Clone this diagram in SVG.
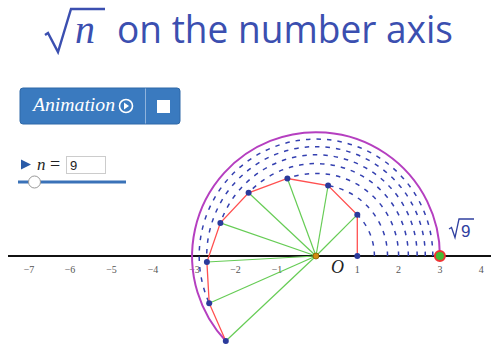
<svg xmlns="http://www.w3.org/2000/svg" width="491" height="346" viewBox="0 0 491 346">
<style>
.title{font-family:"Open Sans","DejaVu Sans",sans-serif;font-size:38px;fill:#3b4fb0}
.mi{font-family:"Liberation Serif","DejaVu Serif",serif;font-style:italic}
.tick{font-family:"Liberation Serif","DejaVu Serif",serif;font-size:10px;fill:#555;text-anchor:middle}
.dash{fill:none;stroke:#3440b0;stroke-width:1.5;stroke-dasharray:4.5 6}
.green{stroke:#66cc55;stroke-width:1.2}
.red{fill:none;stroke:#ff5050;stroke-width:1.3}
.pt{fill:#2b3a9b}
</style>
<g id="title">
<path d="M45,35 L48,33 L58,52 L71,9 L105,9" fill="none" stroke="#3b4fb0" stroke-width="2.4" stroke-linejoin="miter"/>
<text x="75" y="43" class="mi" font-size="40" fill="#3b4fb0">n</text>
<text x="117" y="43" class="title" textLength="336" lengthAdjust="spacingAndGlyphs">on the number axis</text>
</g>
<g id="animation-button">
<rect x="20" y="88" width="160" height="36" rx="3" fill="#3a7abf" stroke="#2f69a8" stroke-width="1"/>
<line x1="145.5" y1="88.5" x2="145.5" y2="123.5" stroke="#8fb3dc" stroke-width="1"/>
<text x="33" y="111" class="mi" font-size="18" fill="#fff" textLength="82" lengthAdjust="spacingAndGlyphs">Animation</text>
<circle cx="126" cy="106" r="6.5" fill="none" stroke="#fff" stroke-width="1.6"/>
<path d="M124,102.5 L129,106 L124,109.5 Z" fill="#fff"/>
<rect x="157" y="100" width="13" height="13" fill="#fff"/>
</g>
<g id="slider">
<path d="M21,159.5 L31,164.5 L21,169.5 Z" fill="#2a5ba8"/>
<text x="37" y="170" class="mi" font-size="17" fill="#222">n</text>
<text x="50" y="170" font-family="Liberation Serif,serif" font-size="18" fill="#222">=</text>
<rect x="66.5" y="156.5" width="39" height="17" fill="#fff" stroke="#ccc" stroke-width="1"/>
<text x="70" y="169.5" font-family="Liberation Sans,Arial,sans-serif" font-size="13" fill="#222">9</text>
<line x1="18" y1="182" x2="126" y2="182" stroke="#3a72b8" stroke-width="3"/>
<circle cx="34.5" cy="182" r="6" fill="#fff" stroke="#999" stroke-width="1"/>
</g>
<g id="axis">
<line x1="8" y1="256" x2="491" y2="256" stroke="#111" stroke-width="2"/>
<text x="29" y="273" class="tick">−7</text>
<text x="70" y="273" class="tick">−6</text>
<text x="111.5" y="273" class="tick">−5</text>
<text x="153" y="273" class="tick">−4</text>
<text x="194.5" y="273" class="tick">−3</text>
<text x="235.5" y="273" class="tick">−2</text>
<text x="277" y="273" class="tick">−1</text>
<text x="357.3" y="273" class="tick">1</text>
<text x="398.6" y="273" class="tick">2</text>
<text x="440" y="273" class="tick">3</text>
<text x="481.2" y="273" class="tick">4</text>
<text x="331" y="273" class="mi" font-size="18" fill="#222">O</text>
</g>
<g id="connectors">
<path class="dash" d="M374.41,256 A58.41,58.41 0 0 0 357.3,214.7"/>
<path class="dash" d="M387.53,256 A71.53,71.53 0 0 0 328.1,185.5"/>
<path class="dash" d="M398.6,256 A82.6,82.6 0 0 0 287.4,178.5"/>
<path class="dash" d="M408.35,256 A92.35,92.35 0 0 0 248.6,192.8"/>
<path class="dash" d="M417.16,256 A101.16,101.16 0 0 0 220.4,222.9"/>
<path class="dash" d="M425.27,256 A109.27,109.27 0 1 0 206.9,262.0"/>
<path class="dash" d="M432.81,256 A116.81,116.81 0 1 0 209.2,303.2"/>
<path d="M439.9,256 A123.9,123.9 0 1 0 225.8,341.0" fill="none" stroke="#b53fc0" stroke-width="2"/>
<g class="green">
<line x1="316" y1="256" x2="357.3" y2="214.7"/>
<line x1="316" y1="256" x2="328.1" y2="185.5"/>
<line x1="316" y1="256" x2="287.4" y2="178.5"/>
<line x1="316" y1="256" x2="248.6" y2="192.8"/>
<line x1="316" y1="256" x2="220.4" y2="222.9"/>
<line x1="316" y1="256" x2="206.9" y2="262.0"/>
<line x1="316" y1="256" x2="209.2" y2="303.2"/>
<line x1="316" y1="256" x2="225.8" y2="341.0"/>
</g>
<polyline class="red" points="357.3,256 357.3,214.7 328.1,185.5 287.4,178.5 248.6,192.8 220.4,222.9 206.9,262.0 209.2,303.2 225.8,341.0"/>
</g>
<g id="points">
<circle class="pt" cx="357.3" cy="256" r="3"/>
<circle class="pt" cx="357.3" cy="214.7" r="3"/>
<circle class="pt" cx="328.1" cy="185.5" r="3"/>
<circle class="pt" cx="287.4" cy="178.5" r="3"/>
<circle class="pt" cx="248.6" cy="192.8" r="3"/>
<circle class="pt" cx="220.4" cy="222.9" r="3"/>
<circle class="pt" cx="206.9" cy="262.0" r="3"/>
<circle class="pt" cx="209.2" cy="303.2" r="3"/>
<circle class="pt" cx="225.8" cy="341.0" r="3"/>
<circle cx="316" cy="256" r="3" fill="#d08a10" stroke="#8a5a00" stroke-width="0.8"/>
<circle cx="439.9" cy="256" r="5" fill="#44bb33" stroke="#ee3333" stroke-width="2"/>
</g>
<g id="sqrt9-label">
<path d="M449,229 L451.5,227.5 L455,237.5 L459,219 L474,219" fill="none" stroke="#3040a0" stroke-width="1.3"/>
<text x="461" y="236.5" font-family="Liberation Sans,Arial,sans-serif" font-size="17" fill="#3040a0">9</text>
</g>
</svg>
